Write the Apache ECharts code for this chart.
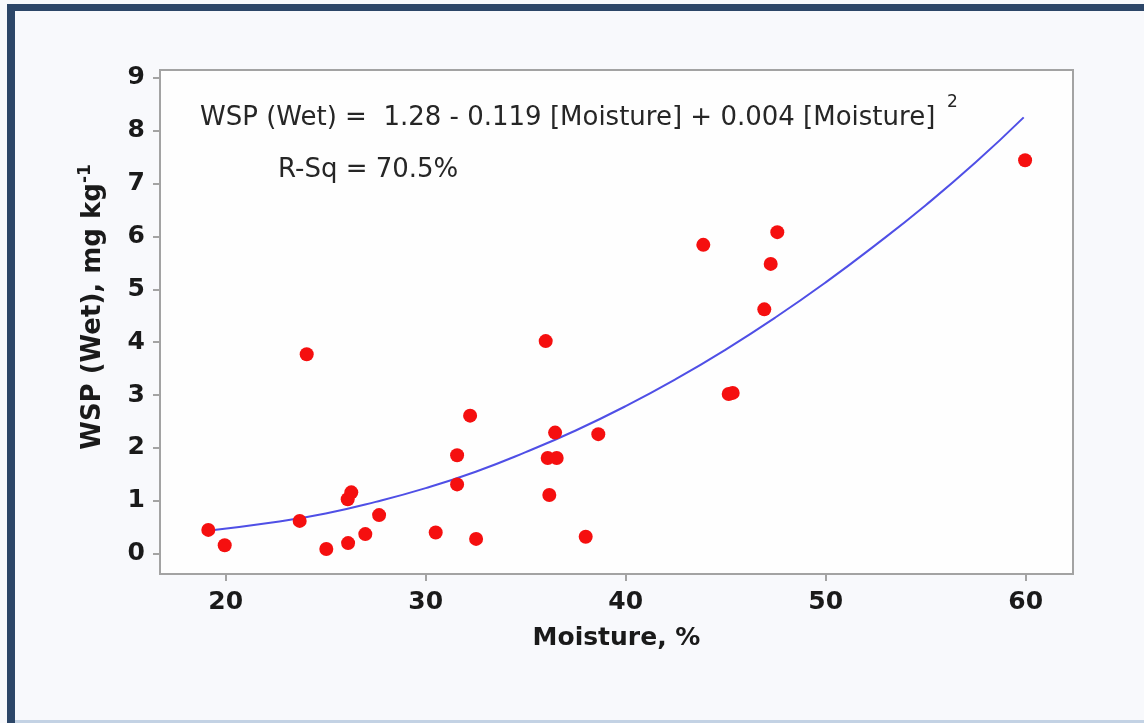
<!DOCTYPE html>
<html>
<head>
<meta charset="utf-8">
<style>
  html, body { margin: 0; padding: 0; background: #f8f9fc; }
  #chart { width: 1144px; height: 723px; }
</style>
<script src="https://cdn.jsdelivr.net/npm/echarts@6/dist/echarts.min.js"></script>
</head>
<body>
<div id="chart"></div>
<script>
// Observed samples: moisture (%) and water-soluble P (wet), mg/kg
const moisture = [19.13, 19.95, 23.70, 24.05, 25.03, 26.12, 26.10, 26.28, 26.98, 27.67,
                  30.50, 31.57, 31.57, 32.22, 32.52, 36.00, 36.10, 36.55, 36.18, 36.47,
                  38.00, 38.63, 43.88, 45.15, 45.35, 46.93, 47.25, 47.58, 59.97];
const wsp      = [0.45, 0.16, 0.62, 3.77, 0.09, 0.20, 1.03, 1.16, 0.37, 0.73,
                  0.40, 1.31, 1.86, 2.61, 0.28, 4.02, 1.81, 1.81, 1.11, 2.29,
                  0.32, 2.26, 5.84, 3.02, 3.04, 4.62, 5.48, 6.08, 7.44];

// Quadratic fit curve, sampled along the moisture range
const fitX = [19.2, 22.5, 25, 27.5, 30, 32.5, 35, 37.5, 40, 42.5, 45, 47.5, 50, 52.5, 55, 57.5, 59.9];
const fitY = [0.44, 0.60, 0.76, 0.98, 1.24, 1.55, 1.92, 2.33, 2.79, 3.30, 3.86, 4.47, 5.13, 5.84, 6.59, 7.40, 8.25];

const xTicks = [20, 30, 40, 50, 60];
const yTicks = [0, 1, 2, 3, 4, 5, 6, 7, 8, 9];

const xTitle = 'Moisture, %';
const yTitle = 'WSP (Wet), mg kg';
const yTitleSup = '-1';
const equationText = 'WSP (Wet) =  1.28 - 0.119 [Moisture] + 0.004 [Moisture]';
const rsqText = 'R-Sq = 70.5%';

const FONT = 'DejaVu Sans';
const INK = '#1a1a1a';

const chart = echarts.init(document.getElementById('chart'), null, { renderer: 'canvas' });

chart.setOption({
  backgroundColor: '#f8f9fc',
  animation: false,
  grid: {
    left: 160, top: 70, right: 71, bottom: 149,
    show: true,
    backgroundColor: '#fefefe',
    borderColor: '#a3a3a3',
    borderWidth: 2
  },
  xAxis: {
    type: 'value',
    min: 16.715, max: 62.365,
    axisLine: { show: false, onZero: false },
    splitLine: { show: false },
    axisTick: { show: true, customValues: xTicks, length: 7, lineStyle: { color: '#a3a3a3', width: 2 } },
    axisLabel: { customValues: xTicks, margin: 16, color: INK, fontFamily: FONT, fontWeight: 'bold', fontSize: 25 },
    name: xTitle,
    nameLocation: 'middle',
    nameGap: 52,
    nameTextStyle: { color: INK, fontFamily: FONT, fontWeight: 'bold', fontSize: 25 }
  },
  yAxis: {
    type: 'value',
    min: -0.384, max: 9.146,
    axisLine: { show: false, onZero: false },
    splitLine: { show: false },
    axisTick: { show: true, customValues: yTicks, length: 7, lineStyle: { color: '#a3a3a3', width: 2 } },
    axisLabel: { customValues: yTicks, margin: 15, color: INK, fontFamily: FONT, fontWeight: 'bold', fontSize: 25 }
  },
  series: [
    {
      type: 'line',
      data: fitX.map((x, i) => [x, fitY[i]]),
      smooth: true,
      showSymbol: false,
      lineStyle: { color: '#4f4fe6', width: 2 },
      z: 2,
      silent: true
    },
    {
      type: 'scatter',
      data: moisture.map((x, i) => [x, wsp[i]]),
      symbol: 'circle',
      symbolSize: 14,
      itemStyle: { color: '#f50f0f', opacity: 1 },
      z: 3
    }
  ],
  graphic: [
    // outer frame
    { type: 'rect', left: 7, top: 4, shape: { width: 1137, height: 7 }, style: { fill: '#2c4668' }, z: 10 },
    { type: 'rect', left: 7, top: 4, shape: { width: 8, height: 719 }, style: { fill: '#2c4668' }, z: 10 },
    { type: 'rect', left: 15, top: 720, shape: { width: 1129, height: 3 }, style: { fill: '#c3d2e4' }, z: 10 },
    // vertical axis title with superscript unit
    {
      type: 'text', x: 93, y: 307, rotation: Math.PI / 2, z: 10,
      style: {
        text: '{b|' + yTitle + '}{s|' + yTitleSup + '}',
        align: 'center', verticalAlign: 'middle',
        rich: {
          b: { fill: INK, fontFamily: FONT, fontWeight: 'bold', fontSize: 26, lineHeight: 32 },
          s: { fill: INK, fontFamily: FONT, fontWeight: 'bold', fontSize: 17, lineHeight: 17, verticalAlign: 'top' }
        }
      }
    },
    // fit annotations
    { type: 'text', left: 200, top: 105, style: { text: equationText, font: '26px "DejaVu Sans"', fill: '#262626' }, z: 10 },
    { type: 'text', left: 947, top: 94, style: { text: '2', font: '17px "DejaVu Sans"', fill: '#262626' }, z: 10 },
    { type: 'text', left: 278, top: 157, style: { text: rsqText, font: '26px "DejaVu Sans"', fill: '#262626' }, z: 10 }
  ]
});
</script>
</body>
</html>
